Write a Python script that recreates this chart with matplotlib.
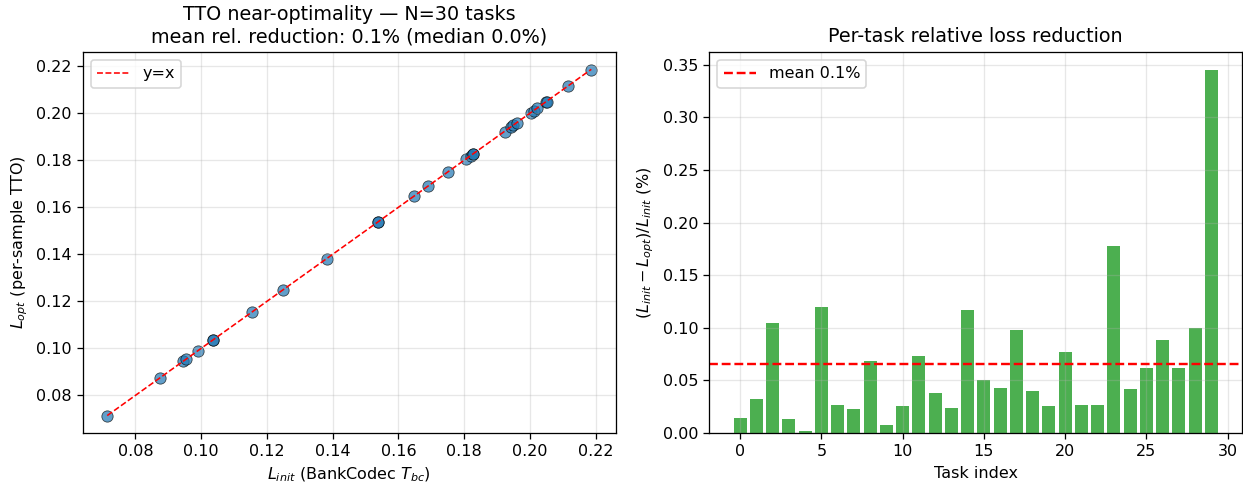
import numpy as np
import matplotlib
matplotlib.use("Agg")
import matplotlib.pyplot as plt

# L_init per task
l_init = [0.0714, 0.0876, 0.0945, 0.0955, 0.0989, 0.1036, 0.1037, 0.1154, 0.1250, 0.1382,
          0.1537, 0.1539, 0.1649, 0.1690, 0.1750, 0.1807, 0.1820, 0.1826, 0.1828, 0.1923,
          0.1942, 0.1950, 0.1961, 0.2002, 0.2013, 0.2022, 0.2049, 0.2051, 0.2116, 0.2187]
# relative reduction (%) per task index
rel_red = [0.014, 0.032, 0.105, 0.013, 0.002, 0.120, 0.027, 0.023, 0.068, 0.008,
           0.026, 0.073, 0.038, 0.024, 0.117, 0.050, 0.043, 0.098, 0.040, 0.026,
           0.077, 0.027, 0.027, 0.178, 0.042, 0.062, 0.088, 0.062, 0.100, 0.345]

l_init = np.array(l_init)
rel = np.array(rel_red)
l_opt = l_init * (1 - rel.mean() / 100)
mean_red = rel.mean()

DPI = 115
fig, axes = plt.subplots(1, 2, figsize=(1243 / DPI, 482 / DPI), dpi=DPI)

ax = axes[0]
ax.scatter(l_init, l_opt, s=50, alpha=0.7, color='tab:blue', edgecolors='k', linewidths=0.5)
lo, hi = l_init.min(), l_init.max()
ax.plot([lo, hi], [lo, hi], 'r--', lw=1, label='y=x')
ax.set_xlabel(r'$L_{init}$ (BankCodec $T_{bc}$)')
ax.set_ylabel(r'$L_{opt}$ (per-sample TTO)')
ax.set_title('TTO near-optimality — N=30 tasks\nmean rel. reduction: 0.1% (median 0.0%)')
ax.legend(loc='upper left')
ax.grid(True, alpha=0.3)

ax = axes[1]
ax.bar(np.arange(len(rel)), rel, color='#4CAF50')
ax.axhline(mean_red, color='r', ls='--', lw=1.5, label='mean 0.1%')
ax.set_xlabel('Task index')
ax.set_ylabel(r'$(L_{init} - L_{opt}) / L_{init}$ (%)')
ax.set_title('Per-task relative loss reduction')
ax.legend(loc='upper left')
ax.grid(True, alpha=0.3)

plt.subplots_adjust(left=83 / 1243, right=1242 / 1243, top=1 - 52 / 482,
                    bottom=1 - 433 / 482, wspace=0.1765)
plt.savefig('out.png', dpi=DPI)
